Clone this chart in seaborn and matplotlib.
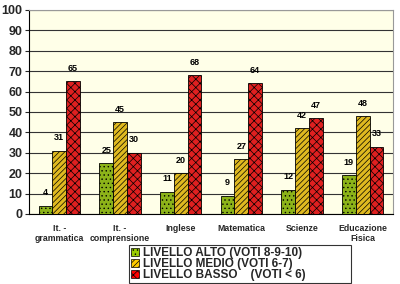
import matplotlib
matplotlib.use("Agg")
import matplotlib.pyplot as plt
import seaborn as sns
import pandas as pd
from matplotlib.patches import Patch
from matplotlib import font_manager

categories = ["It. -\ngrammatica", "It. -\ncomprensione", "Inglese", "Matematica", "Scienze", "Educazione\nFisica"]
levels = ["LIVELLO ALTO (VOTI 8-9-10)", "LIVELLO MEDIO (VOTI 6-7)", "LIVELLO BASSO    (VOTI < 6)"]
alto = [4, 25, 11, 9, 12, 19]
medio = [31, 45, 20, 27, 42, 48]
basso = [65, 30, 68, 64, 47, 33]
yticks = [0, 10, 20, 30, 40, 50, 60, 70, 80, 90, 100]

colors = ["#99CC00", "#FFCC00", "#FF0000"]
hatches = ["....", "//////", "xxxx"]

rows = []
for lev, vals in zip(levels, [alto, medio, basso]):
    for c, v in zip(categories, vals):
        rows.append({"cat": c, "val": v, "level": lev})
df = pd.DataFrame(rows)

sns.set_style("white")
plt.rcParams["font.family"] = ["Liberation Sans", "DejaVu Sans"]
plt.rcParams["hatch.linewidth"] = 0.5
plt.rcParams["hatch.color"] = "#444444"

names = {f.name for f in font_manager.fontManager.ttflist}
legend_family = ["Liberation Sans Narrow", "Liberation Sans"] if "Liberation Sans Narrow" in names else ["Liberation Sans"]

fig = plt.figure(figsize=(4.0, 2.84), dpi=100)
ax = fig.add_axes([0.0725, 0.2465, 0.91, 0.7185])
ax.set_facecolor("#FFFFE8")

sns.barplot(data=df, x="cat", y="val", hue="level", palette=colors, width=0.68,
            edgecolor="black", linewidth=0.6, ax=ax, legend=False, zorder=3)

for cont, h in zip(ax.containers, hatches):
    for p in cont.patches:
        p.set_hatch(h)
    ax.bar_label(cont, fmt="%d", padding=6, fontsize=6.5, fontweight="bold", color="black")

ax.set_ylim(0, 100)
ax.set_yticks(yticks)
ax.set_yticklabels([str(t) for t in yticks], fontsize=9, fontweight="bold")
ax.grid(axis="y", color="#333333", linewidth=0.8, zorder=0)
ax.set_axisbelow(True)
ax.set_xlabel("")
ax.set_ylabel("")
ax.set_xticks(range(len(categories)))
ax.set_xticklabels(categories, fontsize=6.3, fontweight="bold")
ax.tick_params(axis="x", length=0, pad=7)
ax.tick_params(axis="y", length=3, left=True, pad=1.5)
for s in ["top", "right"]:
    ax.spines[s].set_color("#999999")
    ax.spines[s].set_linewidth(0.8)
ax.spines["left"].set_color("black")
ax.spines["bottom"].set_color("black")
ax.spines["bottom"].set_linewidth(0.8)
ax.set_xlim(-0.5, len(categories) - 0.5)

handles = [Patch(facecolor=c, edgecolor="black", hatch=h, linewidth=0.5) for c, h in zip(colors, hatches)]
leg = fig.legend(handles, levels, loc="upper left", bbox_to_anchor=(0.3225, 0.138, 0.555, 0.0),
                 mode="expand", frameon=True,
                 prop={"weight": "bold", "size": 8.5, "family": legend_family},
                 handlelength=0.65, handleheight=0.65, handletextpad=0.3, labelspacing=-0.1,
                 borderpad=0.2, borderaxespad=0)
leg.get_frame().set_edgecolor("black")
leg.get_frame().set_linewidth(0.8)
leg.get_frame().set_boxstyle("square", pad=0)
leg._legend_box.align = "left"

fig.savefig("out.png", dpi=100)
